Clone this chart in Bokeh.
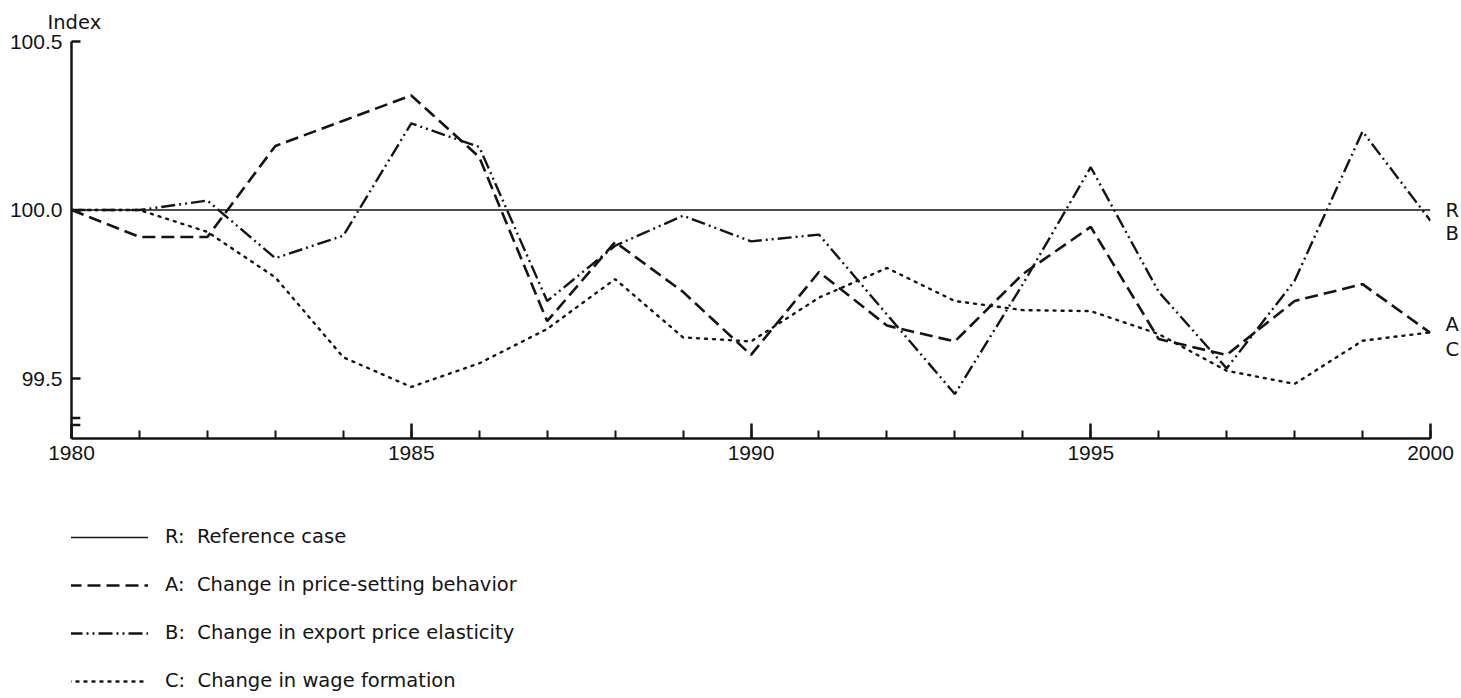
from bokeh.plotting import figure
from bokeh.models import Range1d, FixedTicker, Legend, LegendItem, ColumnDataSource, LinearAxis
from bokeh.layouts import column
from bokeh.embed import file_html
from bokeh.resources import INLINE

years = list(range(1980, 2001))
series_r = [100.0] * 21
series_a = [100.0, 99.92, 99.92, 100.19, 100.265, 100.34, 100.157, 99.67, 99.905, 99.757,
            99.57, 99.816, 99.657, 99.61, 99.81, 99.95, 99.617, 99.57, 99.73, 99.78, 99.635]
series_b = [100.0, 100.0, 100.028, 99.857, 99.924, 100.257, 100.187, 99.73, 99.894, 99.983,
            99.907, 99.927, 99.69, 99.454, 99.78, 100.127, 99.757, 99.53, 99.79, 100.233, 99.968]
series_c = [100.0, 100.0, 99.935, 99.80, 99.563, 99.475, 99.545, 99.647, 99.795, 99.622,
            99.61, 99.74, 99.828, 99.73, 99.703, 99.70, 99.632, 99.523, 99.484, 99.612, 99.637]

x_major_ticks = [1980, 1985, 1990, 1995, 2000]
y_ticks = [99.5, 100.0, 100.5]
y_tick_labels = {99.5: "99.5", 100.0: "100.0", 100.5: "100.5"}
legend_labels = ["R:  Reference case", "A:  Change in price-setting behavior",
                 "B:  Change in export price elasticity", "C:  Change in wage formation"]
end_labels = ["R", "B", "A", "C"]
end_label_values = [100.0, 99.93, 99.66, 99.585]
axis_break_values = [99.383, 99.362]

INK = "#141414"
TICK_FONT = "Liberation Sans"
TEXT_FONT = "DejaVu Sans"

STYLES = [dict(line_color=INK, line_width=1.6),
          dict(line_color=INK, line_width=2.6, line_dash="13 6"),
          dict(line_color=INK, line_width=2.4, line_dash="14 4 2 4 2 4"),
          dict(line_color=INK, line_width=2.4, line_dash="2 6", line_cap="round")]

p = figure(frame_width=1359, frame_height=397, output_backend="svg", toolbar_location=None,
           x_range=Range1d(1980, 2000), y_range=Range1d(99.322, 100.5),
           min_border_left=71, min_border_right=31, min_border_top=40, min_border_bottom=38)
p.outline_line_color = None
p.xgrid.visible = False
p.ygrid.visible = False
p.background_fill_color = "white"
p.border_fill_color = "white"

p.title.text = "Index"
p.title.text_font = TEXT_FONT
p.title.text_font_size = "19.5px"
p.title.text_font_style = "normal"
p.title.text_color = INK
p.title.align = "left"
p.title.offset = -24
p.title.standoff = 16

# axes
xa = p.xaxis[0]
xa.ticker = FixedTicker(ticks=x_major_ticks, minor_ticks=years)
xa.major_tick_in = 15
xa.major_tick_out = 0
xa.minor_tick_in = 8
xa.minor_tick_out = 0
xa.axis_line_width = 2.5
xa.major_tick_line_width = 2.5
xa.minor_tick_line_width = 2
xa.axis_line_color = INK
xa.major_tick_line_color = INK
xa.minor_tick_line_color = INK
xa.major_label_text_font = TICK_FONT
xa.major_label_text_font_size = "21px"
xa.major_label_text_color = INK
xa.major_label_standoff = 7

ya = p.yaxis[0]
ya.ticker = FixedTicker(ticks=y_ticks, minor_ticks=[])
ya.major_label_overrides = y_tick_labels
ya.major_tick_in = 9
ya.major_tick_out = 0
ya.minor_tick_in = 0
ya.minor_tick_out = 0
ya.axis_line_width = 2.5
ya.major_tick_line_width = 2.5
ya.axis_line_color = INK
ya.major_tick_line_color = INK
ya.major_label_text_font = TICK_FONT
ya.major_label_text_font_size = "21px"
ya.major_label_text_color = INK
ya.major_label_standoff = 9

# end-of-line labels on the right
ra = LinearAxis(ticker=FixedTicker(ticks=end_label_values, minor_ticks=[]),
                major_label_overrides={v: t for v, t in zip(end_label_values, end_labels)},
                axis_line_color=None, major_tick_line_color=None, minor_tick_line_color=None,
                major_tick_in=0, major_tick_out=0, minor_tick_in=0, minor_tick_out=0,
                major_label_standoff=15, major_label_text_font=TEXT_FONT,
                major_label_text_font_size="19.5px", major_label_text_color=INK)
p.add_layout(ra, "right")

# axis break mark
p.segment(x0=[1979.9] * 2, x1=[1980.13] * 2, y0=axis_break_values, y1=axis_break_values,
          line_color=INK, line_width=2.5)

src = ColumnDataSource(dict(year=years, r=series_r, a=series_a, b=series_b, c=series_c))
for col, st in zip(["r", "a", "b", "c"], STYLES):
    p.line("year", col, source=src, **st)

# legend figure below the chart (its ranges keep the series themselves out of view)
lf = figure(width=1461, height=223, output_backend="svg", toolbar_location=None,
            x_axis_type=None, y_axis_type=None, x_range=Range1d(0, 1), y_range=Range1d(0, 1),
            min_border=0, min_border_left=0, min_border_right=0, min_border_top=0, min_border_bottom=0)
lf.outline_line_color = None
lf.xgrid.visible = False
lf.ygrid.visible = False
leg_renderers = [lf.line("year", col, source=src, **st) for col, st in zip(["r", "a", "b", "c"], STYLES)]

legend = Legend(items=[LegendItem(label=lab, renderers=[r]) for lab, r in zip(legend_labels, leg_renderers)],
                location=(-3, 7), orientation="vertical",
                glyph_width=80, glyph_height=20, label_height=20, spacing=25,
                label_standoff=17, padding=0, margin=0,
                label_text_font=TEXT_FONT, label_text_font_size="19.5px", label_text_color=INK,
                border_line_color=None, background_fill_alpha=0)
lf.add_layout(legend, "center")

open("out.html", "w").write(file_html(column(p, lf, spacing=0), INLINE))
